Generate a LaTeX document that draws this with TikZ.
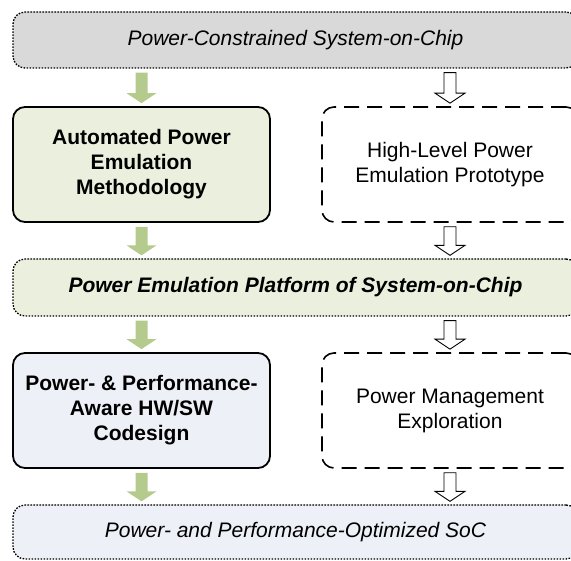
\documentclass[tikz,border=0pt]{standalone}
\usepackage{fontspec}
\setmainfont{Liberation Sans}
\usetikzlibrary{calc,positioning}

\definecolor{barGray}{HTML}{D9D9D9}
\definecolor{oliveFill}{HTML}{EBF0DE}
\definecolor{blueFill}{HTML}{EDF0F6}
\definecolor{arrowGreen}{HTML}{B5CB8D}

% fat block arrow pointing down, from one node to another
\newcommand{\flowarrow}[3]{%
  \path[#1] let \p1=($(#2)+(0,4)$), \p2=($(#3)+(0,-3)$) in
    (\x1-6pt,\y1) -- (\x1-6pt,\y2+10pt) -- (\x1-15pt,\y2+10pt) -- (\x1,\y2)
    -- (\x1+15pt,\y2+10pt) -- (\x1+6pt,\y2+10pt) -- (\x1+6pt,\y1) -- cycle;}

\begin{document}
\begin{tikzpicture}[x=1pt,y=-1pt,font=\fontsize{21}{25}\selectfont,
  bar/.style={draw,rounded corners=12pt,line width=1.3pt,dash pattern=on 1.6pt off 1.4pt,minimum width=565pt,inner sep=0pt},
  solidbox/.style={draw,rounded corners=12pt,line width=1.8pt,minimum width=257pt,minimum height=115pt,inner sep=0pt,align=center,font=\fontsize{21}{25}\selectfont\bfseries},
  dashbox/.style={draw,rounded corners=12pt,line width=1.6pt,dash pattern=on 15pt off 8pt,minimum width=256pt,minimum height=115pt,inner sep=0pt,align=center},
  greenarrow/.style={fill=arrowGreen},
  openarrow/.style={fill=white,draw=black,line width=0.9pt}]
  \clip (0,0) rectangle (571,561);

  \node[bar,fill=barGray,minimum height=56pt] (topbar) at (295.5,40) {\itshape Power-Constrained System-on-Chip};

  \node[solidbox,fill=oliveFill] (method) at (141.5,164.5) {Automated Power\\Emulation\\Methodology};
  \node[dashbox] (proto) at (450,164.5) {High-Level Power\\Emulation Prototype};

  \node[bar,fill=oliveFill,minimum height=57pt] (platform) at (295.5,287.5) {\bfseries\itshape Power Emulation Platform of System-on-Chip};

  \node[solidbox,fill=blueFill] (codesign) at (141.5,410.5) {Power- \& Performance-\\Aware HW/SW\\Codesign};
  \node[dashbox] (explore) at (450,410.5) {Power Management\\Exploration};

  \node[bar,fill=blueFill,minimum height=54pt] (optsoc) at (295.5,532) {\itshape Power- and Performance-Optimized SoC};

  % left column
  \flowarrow{greenarrow}{method.north |- topbar.south}{method.north}
  \flowarrow{greenarrow}{method.south}{method.south |- platform.north}
  \flowarrow{greenarrow}{codesign.north |- platform.south}{codesign.north}
  \flowarrow{greenarrow}{codesign.south}{codesign.south |- optsoc.north}

  % right column
  \flowarrow{openarrow}{proto.north |- topbar.south}{proto.north}
  \flowarrow{openarrow}{proto.south}{proto.south |- platform.north}
  \flowarrow{openarrow}{explore.north |- platform.south}{explore.north}
  \flowarrow{openarrow}{explore.south}{explore.south |- optsoc.north}
\end{tikzpicture}
\end{document}
